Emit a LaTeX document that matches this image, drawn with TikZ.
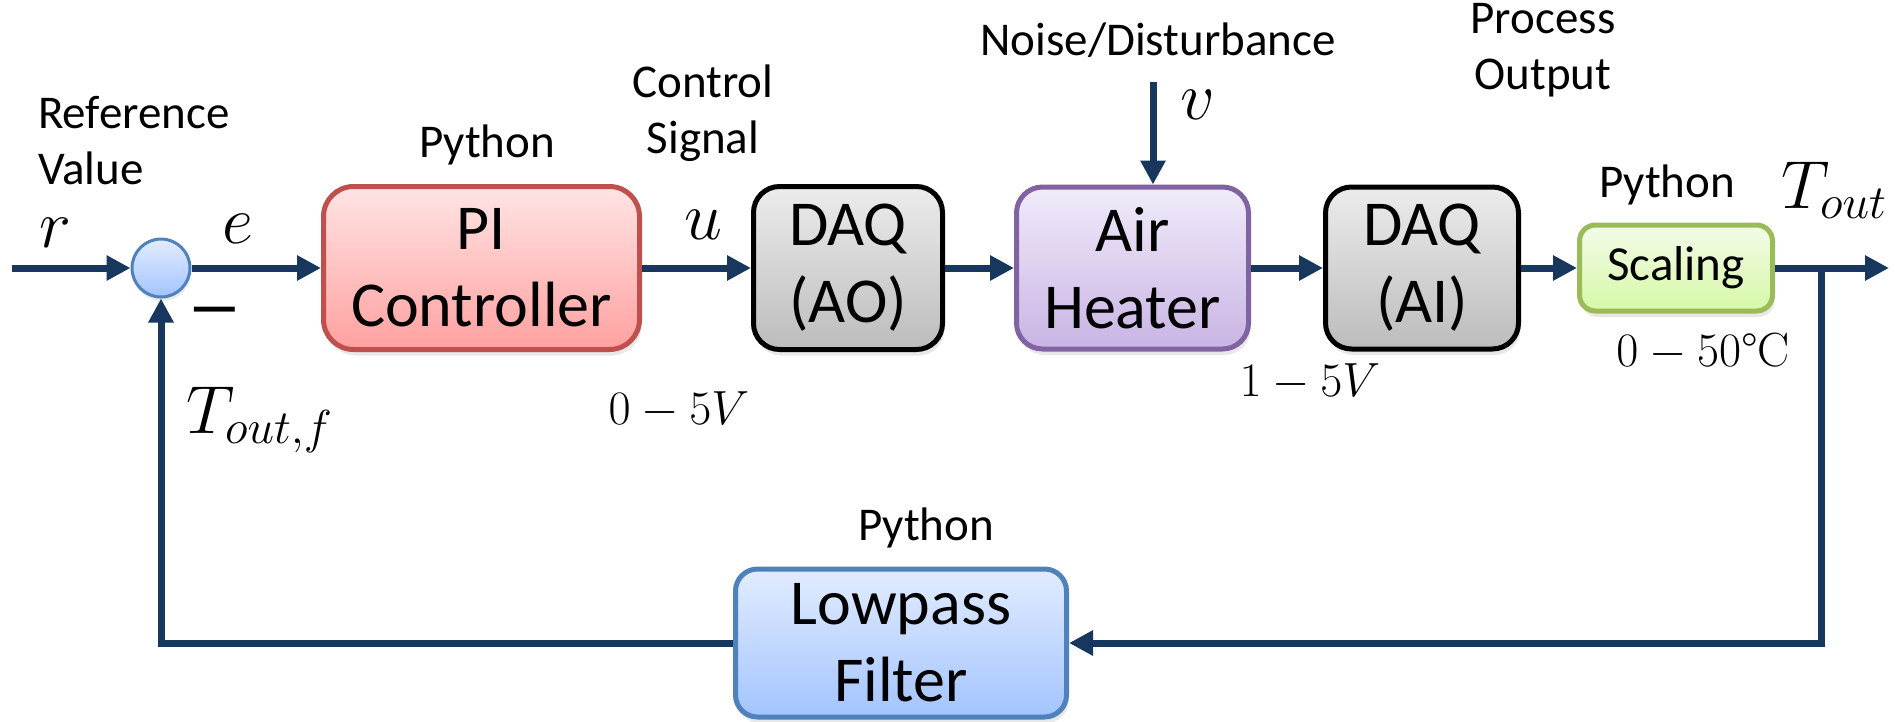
\documentclass[tikz,border=0pt]{standalone}
\usepackage{fix-cm}
\usepackage{fontspec}
\setsansfont{Carlito}
\renewcommand{\familydefault}{\sfdefault}
\usetikzlibrary{arrows.meta,shadows}
\definecolor{navy}{RGB}{23,55,94}
\definecolor{pired}{RGB}{192,80,77}
\definecolor{pitop}{RGB}{255,228,228}
\definecolor{pibot}{RGB}{255,160,160}
\definecolor{daqtop}{RGB}{236,236,236}
\definecolor{daqbot}{RGB}{188,188,188}
\definecolor{airb}{RGB}{128,100,162}
\definecolor{airtop}{RGB}{241,235,250}
\definecolor{airbot}{RGB}{200,180,228}
\definecolor{scb}{RGB}{155,187,89}
\definecolor{sctop}{RGB}{243,251,232}
\definecolor{scbot}{RGB}{214,248,166}
\definecolor{lpb}{RGB}{79,129,189}
\definecolor{lptop}{RGB}{226,236,255}
\definecolor{lpbot}{RGB}{163,196,255}
\tikzset{
  sig/.style={line width=7pt, draw=navy, -{Triangle[length=24pt,width=24pt]}},
  blk/.style={rounded corners=26pt, line width=5pt, inner sep=0pt, align=center,
    font=\fontsize{64}{77}\selectfont,
    drop shadow={opacity=0.18, shadow xshift=2pt, shadow yshift=-6pt}},
  lbl/.style={font=\fontsize{47}{56}\selectfont, inner sep=0pt},
  mth/.style={font=\fontsize{68}{68}\selectfont, inner sep=0pt},
  vlt/.style={font=\fontsize{48}{48}\selectfont, inner sep=0pt},
}
\begin{document}
\begin{tikzpicture}[x=1pt,y=-1pt]
\useasboundingbox (0,0) rectangle (1899,721);
% blocks
\node[circle, draw=lpb, line width=3pt, top color=lptop, bottom color=lpbot,
  minimum size=58pt, inner sep=0pt,
  drop shadow={opacity=0.18, shadow xshift=1pt, shadow yshift=-4pt}] (sum) at (161,268) {};
\node[blk, rounded corners=30pt, draw=pired, top color=pitop, bottom color=pibot,
  minimum width=316pt, minimum height=163pt] (pi) at (481.5,268) {PI\\Controller};
\node[blk, draw=black, top color=daqtop, bottom color=daqbot,
  minimum width=189pt, minimum height=163pt] (ao) at (848,268) {DAQ\\(AO)};
\node[blk, draw=airb, top color=airtop, bottom color=airbot,
  minimum width=232pt, minimum height=162pt] (air) at (1132.5,268) {Air\\Heater};
\node[blk, draw=black, top color=daqtop, bottom color=daqbot,
  minimum width=193pt, minimum height=162pt] (ai) at (1422,268) {DAQ\\(AI)};
\node[blk, rounded corners=16pt, draw=scb, top color=sctop, bottom color=scbot,
  minimum width=193pt, minimum height=86pt, font=\fontsize{49}{56}\selectfont] (sc) at (1676,268) {Scaling};
\node[blk, rounded corners=22pt, draw=lpb, top color=lptop, bottom color=lpbot,
  minimum width=331pt, minimum height=148pt] (lp) at (901,643) {Lowpass\\Filter};
% connectors
\coordinate (in) at (12,268);
\coordinate (br) at (1821,268);
\coordinate (out) at (1889,268);
\coordinate (dist) at (1153,82);
\draw[sig] (in) -- (sum);
\draw[sig] (sum) -- (pi);
\draw[sig] (pi) -- (ao);
\draw[sig] (ao) -- (air);
\draw[sig] (air) -- (ai);
\draw[sig] (ai) -- (sc);
\draw[sig] (sc) -- (out);
\draw[sig] (dist) -- (dist |- air.north);
\draw[sig] (br) |- (lp);
\draw[sig] (lp) -| (sum);
% labels
\node[lbl, align=left, anchor=west] (reflbl) at (38,140.5) {Reference\\Value};
\node[lbl] (py1) at (487,145) {Python};
\node[lbl, align=center] (ctl) at (703,113.5) {Control\\Signal};
\node[lbl] (noise) at (1158,40) {Noise/Disturbance};
\node[lbl, align=center] (pout) at (1543,50.5) {Process\\Output};
\node[lbl] (py2) at (1667,185) {Python};
\node[lbl] (py3) at (926,528) {Python};
\node[mth, anchor=base] (rlbl) at (55,247) {$r$};
\node[mth, anchor=base] (elbl) at (238,243) {$e$};
\node[mth, anchor=base] (ulbl) at (703,239) {$u$};
\node[mth] (vlbl) at (1198,105) {$v$};
\node[font=\fontsize{56}{56}\selectfont\bfseries, inner sep=0pt] (minus) at (215,316) {—};
\node[mth, anchor=base west] (tof) at (186,433) {$T_{out,f}$};
\node[mth, anchor=base west] (to) at (1781,208) {$T_{out}$};
\node[vlt] (v1) at (679,410) {$0-5V$};
\node[vlt] (v2) at (1310,382) {$1-5V$};
\node[vlt] (v3) at (1703,352) {$0-50${\rmfamily °C}};
\end{tikzpicture}
\end{document}
